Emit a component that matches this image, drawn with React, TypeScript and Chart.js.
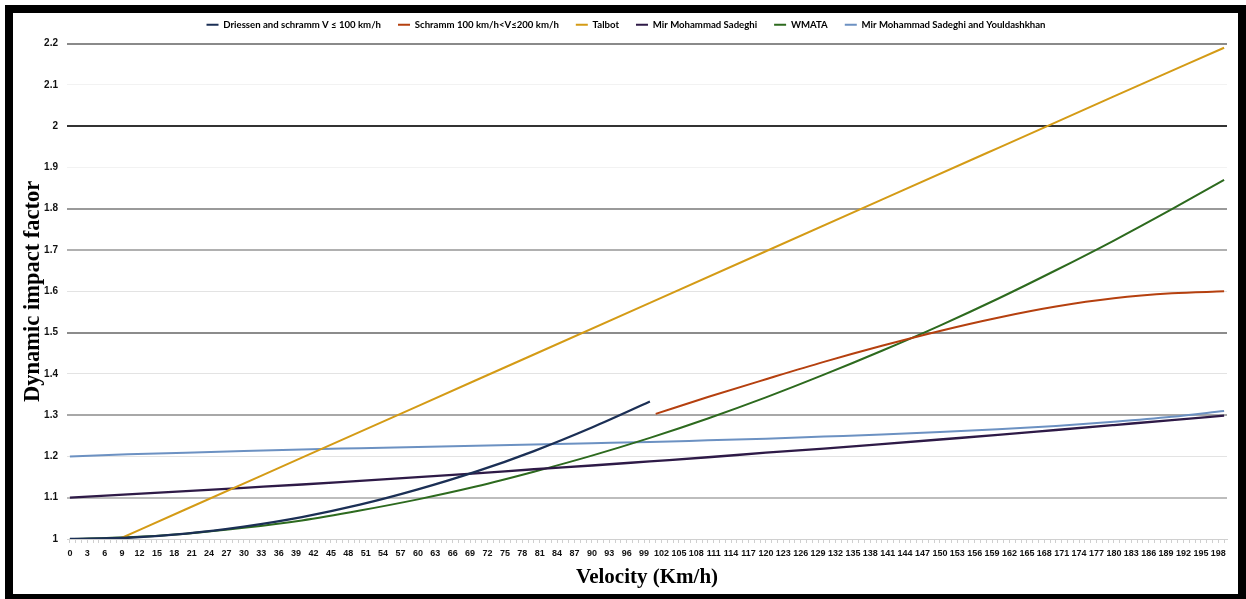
import { useEffect, useRef } from 'react';
import { Chart, registerables } from 'chart.js';

Chart.register(...registerables);

// ---- data ----
const velocityDriessen = [0, 10, 20, 30, 40, 50, 60, 70, 80, 90, 100];
const driessen = [1.0, 1.003, 1.013, 1.03, 1.053, 1.083, 1.12, 1.163, 1.213, 1.27, 1.333];

const velocitySchramm = [101, 110, 120, 130, 140, 150, 160, 170, 180, 190, 199];
const schramm = [1.303, 1.344, 1.387, 1.429, 1.468, 1.504, 1.536, 1.563, 1.583, 1.595, 1.6];

const velocityTalbot = [8.5, 20, 40, 60, 80, 100, 120, 140, 160, 180, 199];
const talbot = [1.0, 1.072, 1.197, 1.322, 1.447, 1.572, 1.697, 1.822, 1.947, 2.072, 2.19];

const velocityFull = [0, 10, 20, 30, 40, 50, 60, 70, 80, 90, 100, 110, 120, 130, 140, 150, 160, 170, 180, 190, 199];
const sadeghi = [1.1, 1.108, 1.116, 1.124, 1.132, 1.141, 1.15, 1.159, 1.169, 1.178, 1.188, 1.198, 1.209, 1.219, 1.23, 1.241, 1.252, 1.264, 1.276, 1.288, 1.299];
const wmata = [1.0, 1.004, 1.013, 1.027, 1.045, 1.069, 1.096, 1.127, 1.163, 1.202, 1.245, 1.292, 1.343, 1.398, 1.456, 1.517, 1.582, 1.651, 1.723, 1.799, 1.87];
const youldashkhan = [1.2, 1.205, 1.209, 1.213, 1.217, 1.22, 1.223, 1.226, 1.229, 1.232, 1.235, 1.239, 1.243, 1.248, 1.253, 1.259, 1.266, 1.274, 1.284, 1.296, 1.31];

const xTickLabels = [0, 3, 6, 9, 12, 15, 18, 21, 24, 27, 30, 33, 36, 39, 42, 45, 48, 51, 54, 57, 60, 63, 66, 69, 72, 75, 78, 81, 84, 87, 90, 93, 96, 99, 102, 105, 108, 111, 114, 117, 120, 123, 126, 129, 132, 135, 138, 141, 144, 147, 150, 153, 156, 159, 162, 165, 168, 171, 174, 177, 180, 183, 186, 189, 192, 195, 198];
const yTicks = [1, 1.1, 1.2, 1.3, 1.4, 1.5, 1.6, 1.7, 1.8, 1.9, 2, 2.1, 2.2];

const seriesNames = [
  'Driessen and schramm V ≤ 100 km/h',
  'Schramm 100 km/h<V≤200 km/h',
  'Talbot',
  'Mir Mohammad Sadeghi',
  'WMATA',
  'Mir Mohammad Sadeghi and Youldashkhan',
];

// ---- styles ----
const colors = ['#1B2F55', '#B5400F', '#D49B16', '#2E1A47', '#2D6A1E', '#6C91C2'];
const lineWidths = [2.3, 2, 2, 2.3, 2, 2];
const gridColors = ['#d6d6d6', '#bdbdbd', '#e3e3e3', '#a8a8a8', '#e3e3e3', '#8c8c8c', '#e3e3e3', '#b0b0b0', '#9a9a9a', '#f2f2f2', '#333333', '#f2f2f2', '#8a8a8a'];
const gridWidths = [1, 2, 1, 2, 1, 2, 1, 2, 2, 1, 2, 1, 2];

const pts = (xs: number[], ys: number[]) => xs.map((x, i) => ({ x, y: ys[i] }));

const xTickFont = { family: 'Liberation Sans', size: 9, weight: 'bold' as const };
const yTickFont = { family: 'Liberation Sans', size: 10, weight: 'bold' as const };

const legendShift = {
  id: 'legendShift',
  afterLayout(chart: any) {
    const l = chart.legend;
    if (l) {
      l.top -= 4;
      l.bottom -= 4;
      l.left += 6;
      l.right += 6;
    }
  },
};

export default function App() {
  const ref = useRef<HTMLCanvasElement>(null);

  useEffect(() => {
    const seriesData = [
      pts(velocityDriessen, driessen),
      pts(velocitySchramm, schramm),
      pts(velocityTalbot, talbot),
      pts(velocityFull, sadeghi),
      pts(velocityFull, wmata),
      pts(velocityFull, youldashkhan),
    ];
    const chart = new Chart(ref.current!, {
      type: 'line',
      data: {
        datasets: seriesData.map((d, i) => ({
          label: seriesNames[i],
          data: d,
          borderColor: colors[i],
          backgroundColor: colors[i],
          borderWidth: lineWidths[i],
          pointRadius: 0,
          fill: false,
          cubicInterpolationMode: 'monotone' as const,
        })),
      },
      options: {
        animation: false,
        responsive: true,
        maintainAspectRatio: false,
        layout: { padding: { top: -6, left: 0, right: 11, bottom: 0 } },
        plugins: {
          tooltip: { enabled: false },
          legend: {
            position: 'top',
            labels: {
              boxWidth: 12,
              boxHeight: 2,
              padding: 17,
              color: '#000',
              font: { family: 'Lato', size: 9.6, weight: 'bold' },
              generateLabels: (c: any) =>
                Chart.defaults.plugins.legend.labels
                  .generateLabels(c)
                  .map((it: any) => ({ ...it, lineWidth: 0, fillStyle: it.strokeStyle })),
            },
          },
        },
        scales: {
          x: {
            type: 'linear',
            min: -0.5,
            max: 199.5,
            afterBuildTicks: (scale: any) => {
              const t = [];
              for (let v = 0; v <= 199; v++) t.push({ value: v });
              scale.ticks = t;
            },
            afterFit: (scale: any) => {
              scale.height = 55;
            },
            ticks: {
              autoSkip: false,
              maxRotation: 0,
              minRotation: 0,
              padding: 5,
              color: '#111',
              font: xTickFont,
              callback: (v: any) => (xTickLabels.includes(v) ? String(v) : ''),
            },
            grid: {
              drawOnChartArea: false,
              drawTicks: true,
              tickLength: 4,
              color: '#cfcfcf',
            },
            border: { display: true, color: '#d0d0d0', width: 1 },
            title: {
              display: true,
              text: 'Velocity (Km/h)',
              color: '#000',
              font: { family: 'Liberation Serif', size: 21, weight: 'bold' },
              padding: { top: 0, bottom: 4 },
            },
          },
          y: {
            type: 'linear',
            min: 1,
            max: 2.2,
            afterBuildTicks: (scale: any) => {
              scale.ticks = yTicks.map((v) => ({ value: v }));
            },
            afterFit: (scale: any) => {
              scale.width = 54;
            },
            ticks: {
              padding: 9,
              color: '#111',
              font: yTickFont,
              callback: (v: any) => String(v),
            },
            grid: {
              drawTicks: false,
              color: (ctx: any) => gridColors[ctx.index] ?? '#e3e3e3',
              lineWidth: (ctx: any) => gridWidths[ctx.index] ?? 1,
            },
            border: { display: false },
            title: {
              display: true,
              text: 'Dynamic impact factor',
              color: '#000',
              font: { family: 'Liberation Serif', size: 22.5, weight: 'bold' },
              padding: { top: 7, bottom: 0 },
            },
          },
        },
      },
      plugins: [legendShift],
    } as any);
    return () => chart.destroy();
  }, []);

  return (
    <div
      style={{
        position: 'absolute',
        left: 5,
        top: 5,
        width: 1241,
        height: 594,
        boxSizing: 'border-box',
        borderStyle: 'solid',
        borderColor: '#000',
        borderWidth: '8px 8px 5px 8px',
        background: '#fff',
      }}
    >
      <div style={{ position: 'relative', width: 1225, height: 581 }}>
        <canvas ref={ref} />
      </div>
    </div>
  );
}
